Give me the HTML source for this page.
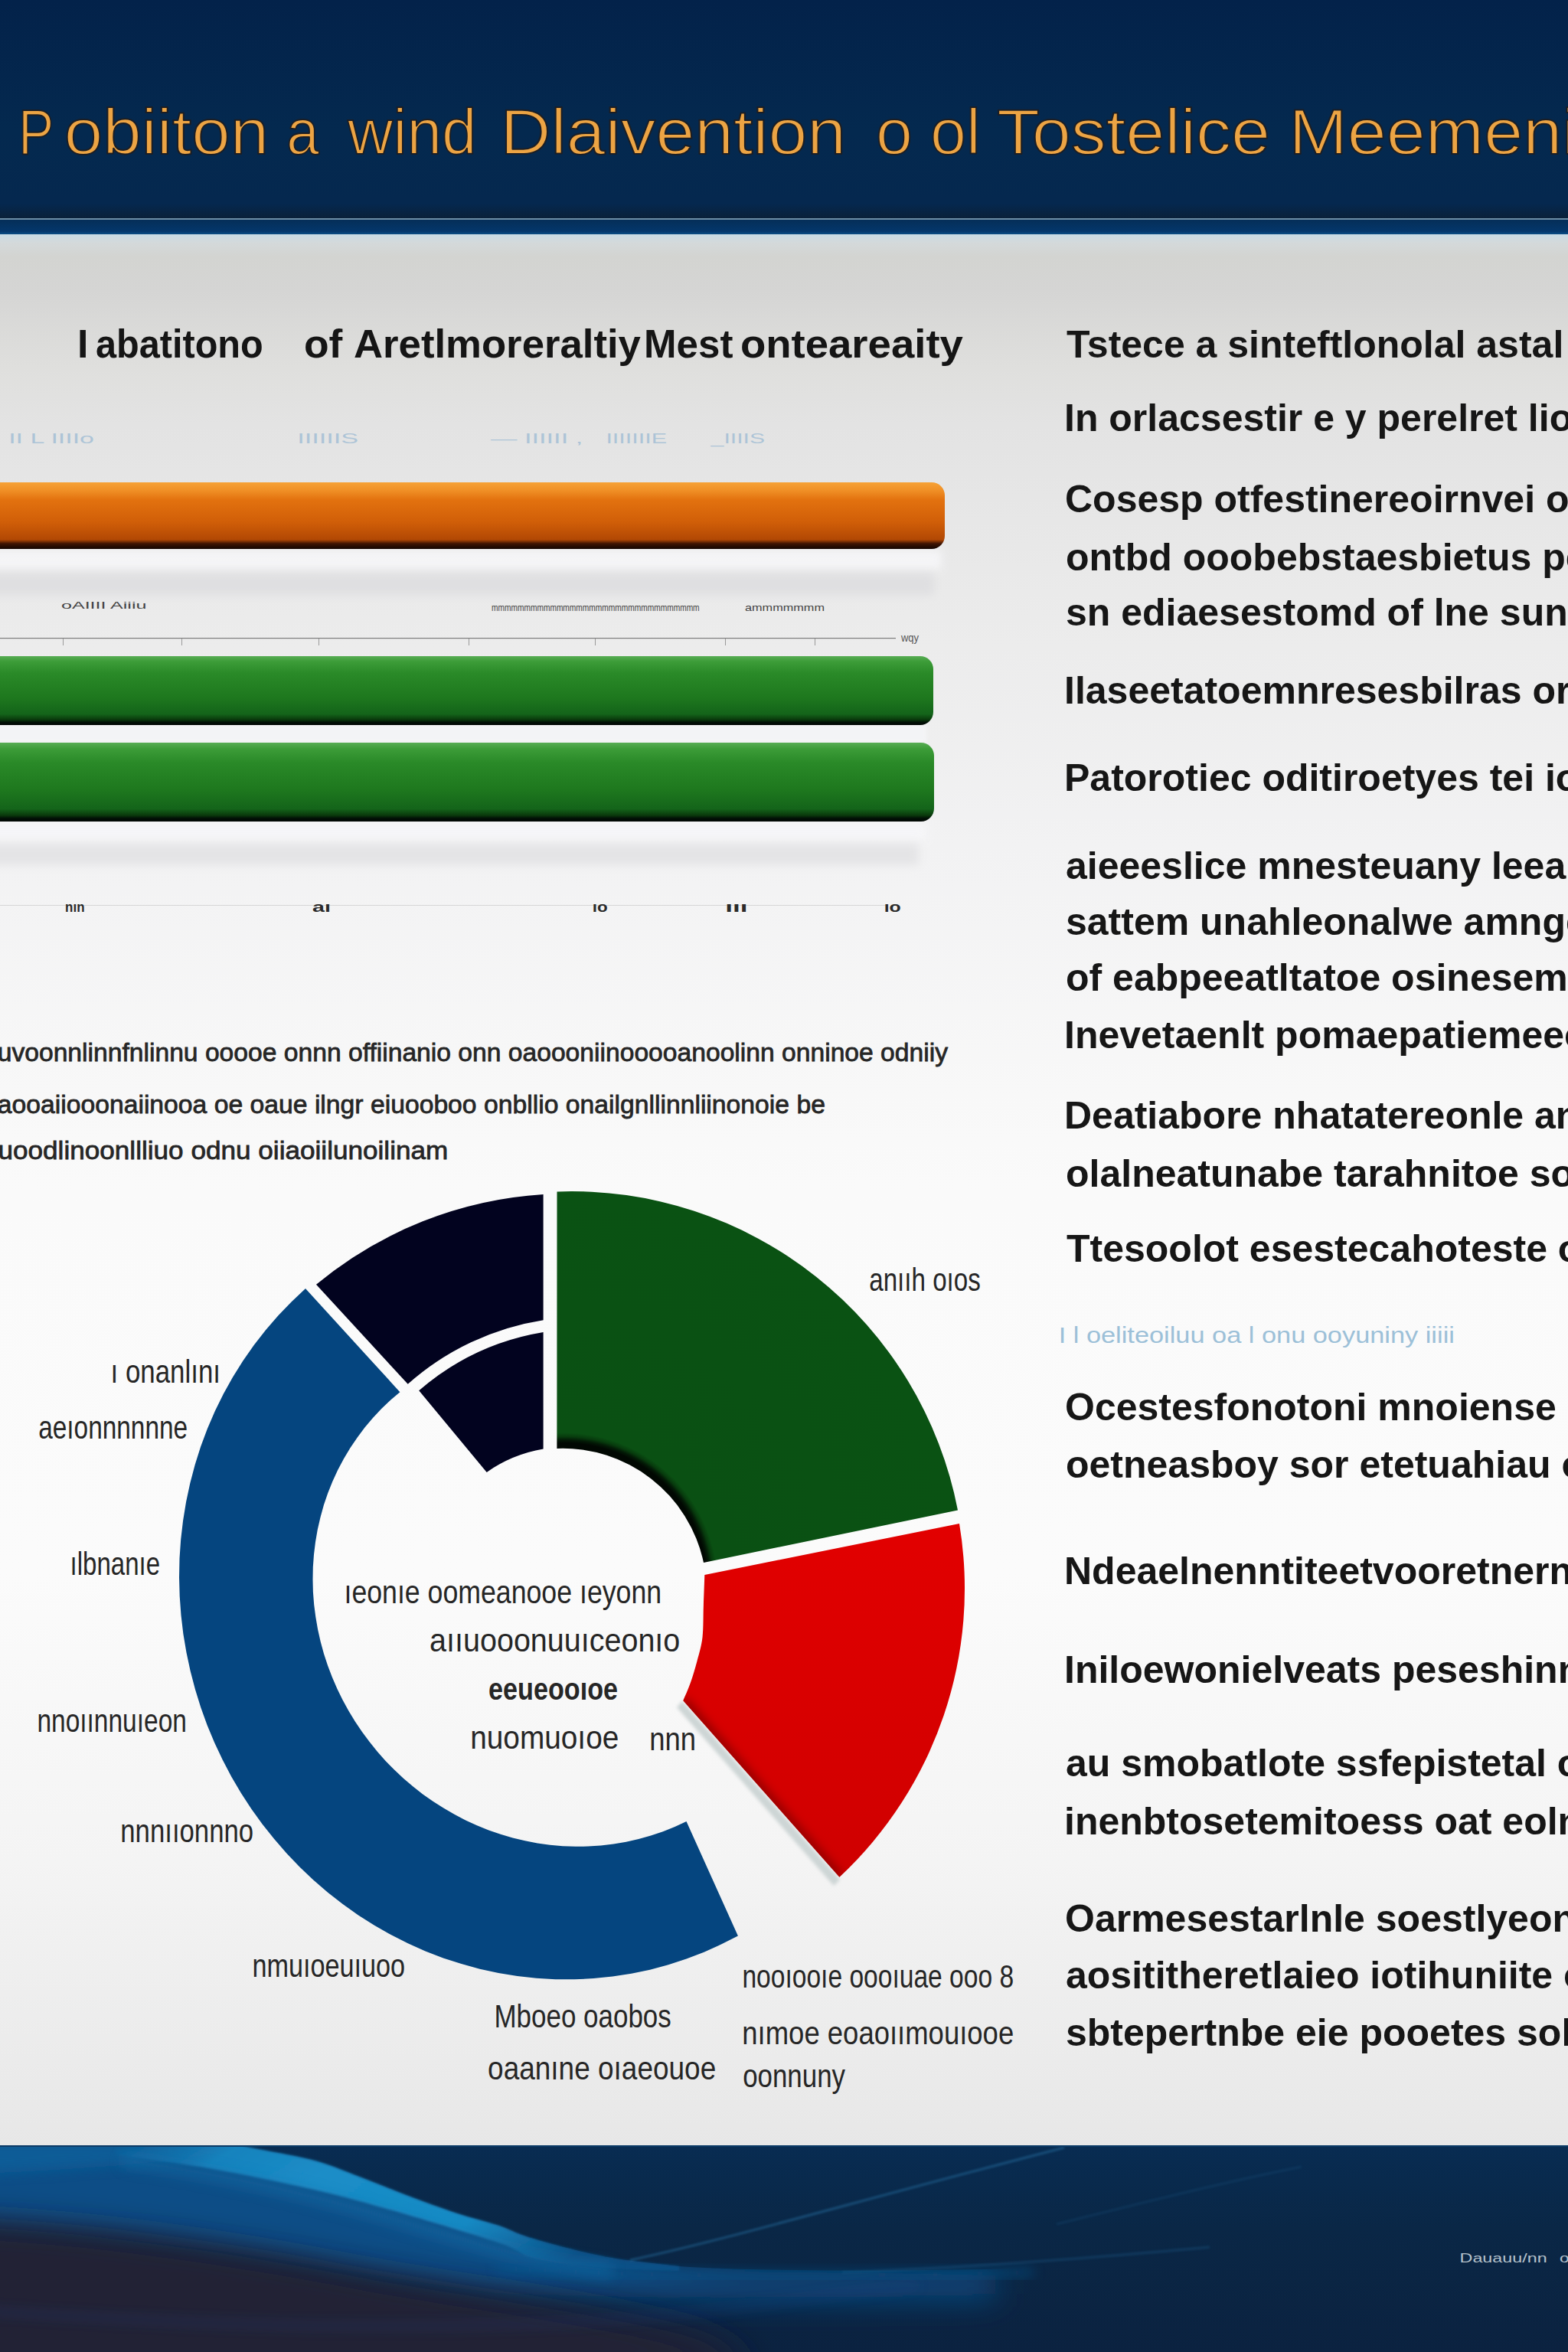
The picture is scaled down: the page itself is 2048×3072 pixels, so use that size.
<!DOCTYPE html>
<html><head><meta charset="utf-8"><title>Slide</title>
<style>html,body{margin:0;padding:0;width:2048px;height:3072px;overflow:hidden;background:#e8e8e8}svg{display:block}</style>
</head><body>
<svg width="2048" height="3072" viewBox="0 0 2048 3072">
<defs>
 <linearGradient id="hdr" x1="0" y1="0" x2="0" y2="1">
  <stop offset="0" stop-color="#03224a"/>
  <stop offset="0.6" stop-color="#04294f"/>
  <stop offset="0.93" stop-color="#05284f"/>
  <stop offset="1" stop-color="#0a2038"/>
 </linearGradient>
 <linearGradient id="band" x1="0" y1="0" x2="0" y2="1">
  <stop offset="0" stop-color="#052e58"/>
  <stop offset="0.8" stop-color="#04376b"/>
  <stop offset="1" stop-color="#0b4f86"/>
 </linearGradient>
 <linearGradient id="content" x1="0" y1="0" x2="0" y2="1">
  <stop offset="0" stop-color="#c9dce6"/>
  <stop offset="0.005" stop-color="#d4d9da"/>
  <stop offset="0.012" stop-color="#d3d4d1"/>
  <stop offset="0.03" stop-color="#d5d5d4"/>
  <stop offset="0.07" stop-color="#dfdfdd"/>
  <stop offset="0.1" stop-color="#e3e3e3"/>
  <stop offset="0.2" stop-color="#ebebeb"/>
  <stop offset="0.32" stop-color="#f2f2f3"/>
  <stop offset="0.45" stop-color="#f8f8f8"/>
  <stop offset="0.5" stop-color="#fafafa"/>
  <stop offset="0.7" stop-color="#fbfbfb"/>
  <stop offset="0.85" stop-color="#f4f4f4"/>
  <stop offset="1" stop-color="#e7e7e7"/>
 </linearGradient>
 <linearGradient id="orange" x1="0" y1="0" x2="0" y2="1">
  <stop offset="0" stop-color="#f6a236"/>
  <stop offset="0.12" stop-color="#f09026"/>
  <stop offset="0.26" stop-color="#e3720f"/>
  <stop offset="0.6" stop-color="#d05e08"/>
  <stop offset="0.86" stop-color="#b24804"/>
  <stop offset="0.92" stop-color="#3f1503"/>
  <stop offset="1" stop-color="#120400"/>
 </linearGradient>
 <linearGradient id="green" x1="0" y1="0" x2="0" y2="1">
  <stop offset="0" stop-color="#58ad54"/>
  <stop offset="0.08" stop-color="#3c9c38"/>
  <stop offset="0.25" stop-color="#2a8a28"/>
  <stop offset="0.6" stop-color="#1e781e"/>
  <stop offset="0.84" stop-color="#14641a"/>
  <stop offset="0.92" stop-color="#0a3a0c"/>
  <stop offset="0.96" stop-color="#021006"/>
  <stop offset="1" stop-color="#010603"/>
 </linearGradient>
 <linearGradient id="shadowband" x1="0" y1="0" x2="0" y2="1">
  <stop offset="0" stop-color="#dcdcdc" stop-opacity="0"/>
  <stop offset="0.25" stop-color="#d8d8da" stop-opacity="0.9"/>
  <stop offset="0.7" stop-color="#dcdcde" stop-opacity="0.9"/>
  <stop offset="1" stop-color="#e2e2e2" stop-opacity="0"/>
 </linearGradient>
 <linearGradient id="footer" x1="0" y1="0" x2="1" y2="1">
  <stop offset="0" stop-color="#1b2a4a"/>
  <stop offset="1" stop-color="#0a2442"/>
 </linearGradient>
 <linearGradient id="red" x1="0" y1="0" x2="0" y2="1">
  <stop offset="0" stop-color="#e20000"/>
  <stop offset="1" stop-color="#cf0000"/>
 </linearGradient>
 <filter id="blur2" x="-20%" y="-20%" width="140%" height="140%"><feGaussianBlur stdDeviation="2"/></filter>
 <filter id="blur5" x="-20%" y="-50%" width="140%" height="200%"><feGaussianBlur stdDeviation="5"/></filter>
 <filter id="blur6" x="-20%" y="-50%" width="140%" height="200%"><feGaussianBlur stdDeviation="6"/></filter>
 <filter id="blur14" x="-20%" y="-50%" width="140%" height="200%"><feGaussianBlur stdDeviation="14"/></filter>
</defs>

<rect x="0" y="0" width="2048" height="3072" fill="#e8e8e8"/>
<rect x="0" y="305" width="2048" height="2500" fill="url(#content)"/>
<rect x="0" y="0" width="2048" height="286" fill="url(#hdr)"/>
<rect x="0" y="285" width="2048" height="2" fill="#6d8ea6"/>
<rect x="0" y="287" width="2048" height="19" fill="url(#band)"/>
<text x="24.0" y="201" font-size="84" font-weight="normal" fill="#eca444" font-family="'Liberation Sans', sans-serif" textLength="46.3" lengthAdjust="spacingAndGlyphs" stroke="#1c1e24" stroke-width="2" stroke-linejoin="round">P</text>
<text x="83.8" y="201" font-size="84" font-weight="normal" fill="#eca444" font-family="'Liberation Sans', sans-serif" textLength="267.3" lengthAdjust="spacingAndGlyphs" stroke="#1c1e24" stroke-width="2" stroke-linejoin="round">obiiton</text>
<text x="374.3" y="201" font-size="84" font-weight="normal" fill="#eca444" font-family="'Liberation Sans', sans-serif" textLength="42.5" lengthAdjust="spacingAndGlyphs" stroke="#1c1e24" stroke-width="2" stroke-linejoin="round">a</text>
<text x="454.0" y="201" font-size="84" font-weight="normal" fill="#eca444" font-family="'Liberation Sans', sans-serif" textLength="168.6" lengthAdjust="spacingAndGlyphs" stroke="#1c1e24" stroke-width="2" stroke-linejoin="round">wind</text>
<text x="653.5" y="201" font-size="84" font-weight="normal" fill="#eca444" font-family="'Liberation Sans', sans-serif" textLength="451.6" lengthAdjust="spacingAndGlyphs" stroke="#1c1e24" stroke-width="2" stroke-linejoin="round">Dlaivention</text>
<text x="1143.9" y="201" font-size="84" font-weight="normal" fill="#eca444" font-family="'Liberation Sans', sans-serif" textLength="47.9" lengthAdjust="spacingAndGlyphs" stroke="#1c1e24" stroke-width="2" stroke-linejoin="round">o</text>
<text x="1215.0" y="201" font-size="84" font-weight="normal" fill="#eca444" font-family="'Liberation Sans', sans-serif" textLength="65.7" lengthAdjust="spacingAndGlyphs" stroke="#1c1e24" stroke-width="2" stroke-linejoin="round">ol</text>
<text x="1301.9" y="201" font-size="84" font-weight="normal" fill="#eca444" font-family="'Liberation Sans', sans-serif" textLength="357.2" lengthAdjust="spacingAndGlyphs" stroke="#1c1e24" stroke-width="2" stroke-linejoin="round">Tostelice</text>
<text x="1683.4" y="201" font-size="84" font-weight="normal" fill="#eca444" font-family="'Liberation Sans', sans-serif" textLength="397.7" lengthAdjust="spacingAndGlyphs" stroke="#1c1e24" stroke-width="2" stroke-linejoin="round">Meemenii</text>
<text x="101.0" y="467" font-size="52" font-weight="bold" fill="#151515" font-family="'Liberation Sans', sans-serif" textLength="14.4" lengthAdjust="spacingAndGlyphs" >I</text>
<text x="125.1" y="467" font-size="52" font-weight="bold" fill="#151515" font-family="'Liberation Sans', sans-serif" textLength="218.6" lengthAdjust="spacingAndGlyphs" >abatitono</text>
<text x="396.9" y="467" font-size="52" font-weight="bold" fill="#151515" font-family="'Liberation Sans', sans-serif" textLength="50.4" lengthAdjust="spacingAndGlyphs" >of</text>
<text x="462.0" y="467" font-size="52" font-weight="bold" fill="#151515" font-family="'Liberation Sans', sans-serif" textLength="374.9" lengthAdjust="spacingAndGlyphs" >Aretlmoreraltiy</text>
<text x="841.1" y="467" font-size="52" font-weight="bold" fill="#151515" font-family="'Liberation Sans', sans-serif" textLength="116.3" lengthAdjust="spacingAndGlyphs" >Mest</text>
<text x="966.9" y="467" font-size="52" font-weight="bold" fill="#151515" font-family="'Liberation Sans', sans-serif" textLength="291.0" lengthAdjust="spacingAndGlyphs" >onteareaity</text>
<text x="11.2" y="579" font-size="19" font-weight="normal" fill="#adc4d7" font-family="'Liberation Sans', sans-serif" textLength="111.8" lengthAdjust="spacingAndGlyphs" >II L IIIIo</text>
<text x="388.2" y="579" font-size="19" font-weight="normal" fill="#adc4d7" font-family="'Liberation Sans', sans-serif" textLength="80.0" lengthAdjust="spacingAndGlyphs" >IIIIIIS</text>
<text x="641.0" y="579" font-size="19" font-weight="normal" fill="#adc4d7" font-family="'Liberation Sans', sans-serif" textLength="120.3" lengthAdjust="spacingAndGlyphs" >— IIIIII ,</text>
<text x="791.4" y="579" font-size="19" font-weight="normal" fill="#adc4d7" font-family="'Liberation Sans', sans-serif" textLength="79.7" lengthAdjust="spacingAndGlyphs" >IIIIIIIE</text>
<text x="928.6" y="579" font-size="19" font-weight="normal" fill="#adc4d7" font-family="'Liberation Sans', sans-serif" textLength="70.5" lengthAdjust="spacingAndGlyphs" >_IIIIS</text>
<rect x="-20" y="718" width="1250" height="26" fill="#f7f7f9" opacity="0.85" filter="url(#blur6)"/>
<rect x="-20" y="1074" width="1230" height="24" fill="#f7f7f9" opacity="0.85" filter="url(#blur6)"/>
<rect x="-20" y="946" width="1230" height="24" fill="#f5f6f8" opacity="0.8" filter="url(#blur2)"/>
<rect x="-20" y="749" width="1240" height="28" fill="#dfdfe1" filter="url(#blur6)"/>
<rect x="-20" y="1102" width="1220" height="28" fill="#e4e4e6" filter="url(#blur6)"/>
<rect x="-30" y="630" width="1264" height="87" rx="17" fill="url(#orange)"/>
<rect x="-30" y="857" width="1249" height="90" rx="17" fill="url(#green)"/>
<rect x="-30" y="970" width="1250" height="103" rx="17" fill="url(#green)"/>
<text x="80.0" y="795" font-size="13" font-weight="normal" fill="#444444" font-family="'Liberation Sans', sans-serif" textLength="111.4" lengthAdjust="spacingAndGlyphs" >oAIIII Aiiiu</text>
<text x="642.0" y="798" font-size="13" font-weight="normal" fill="#444444" font-family="'Liberation Sans', sans-serif" textLength="271.6" lengthAdjust="spacingAndGlyphs" >mmmmmmmmmmmmmmmmmmmmmmmmmmmmmmmm</text>
<text x="973.0" y="798" font-size="13" font-weight="normal" fill="#444444" font-family="'Liberation Sans', sans-serif" textLength="104.0" lengthAdjust="spacingAndGlyphs" >ammmmmmm</text>
<rect x="0" y="833" width="1170" height="1.2" fill="#7c7c7c"/>
<rect x="82" y="834" width="1" height="9" fill="#9a9a9a"/>
<rect x="237" y="834" width="1" height="9" fill="#9a9a9a"/>
<rect x="416" y="834" width="1" height="9" fill="#9a9a9a"/>
<rect x="612" y="834" width="1" height="9" fill="#9a9a9a"/>
<rect x="777" y="834" width="1" height="9" fill="#9a9a9a"/>
<rect x="947" y="834" width="1" height="9" fill="#9a9a9a"/>
<rect x="1064" y="834" width="1" height="9" fill="#9a9a9a"/>
<text x="1176.9" y="838" font-size="14" font-weight="normal" fill="#555" font-family="'Liberation Sans', sans-serif" textLength="23.1" lengthAdjust="spacingAndGlyphs" >wqy</text>
<rect x="0" y="1182" width="1160" height="1" fill="#d6d6d6"/>
<text x="85.1" y="1191" font-size="19" font-weight="bold" fill="#2a2a2a" font-family="'Liberation Sans', sans-serif" textLength="25.4" lengthAdjust="spacingAndGlyphs" >nın</text>
<text x="408.0" y="1191" font-size="19" font-weight="bold" fill="#2a2a2a" font-family="'Liberation Sans', sans-serif" textLength="23.9" lengthAdjust="spacingAndGlyphs" >aı</text>
<text x="773.8" y="1191" font-size="19" font-weight="bold" fill="#2a2a2a" font-family="'Liberation Sans', sans-serif" textLength="19.9" lengthAdjust="spacingAndGlyphs" >ıo</text>
<text x="947.2" y="1191" font-size="19" font-weight="bold" fill="#2a2a2a" font-family="'Liberation Sans', sans-serif" textLength="29.2" lengthAdjust="spacingAndGlyphs" >ııı</text>
<text x="1154.7" y="1191" font-size="19" font-weight="bold" fill="#2a2a2a" font-family="'Liberation Sans', sans-serif" textLength="22.1" lengthAdjust="spacingAndGlyphs" >ıo</text>
<text x="-22.0" y="1386" font-size="34" font-weight="normal" fill="#262626" font-family="'Liberation Sans', sans-serif" textLength="1260.0" lengthAdjust="spacingAndGlyphs" stroke="#262626" stroke-width="0.8">nuvoonnlinnfnlinnu ooooe onnn  offiinanio onn oaoooniinooooanoolinn onninoe odniiy</text>
<text x="-22.0" y="1454" font-size="34" font-weight="normal" fill="#262626" font-family="'Liberation Sans', sans-serif" textLength="1099.9" lengthAdjust="spacingAndGlyphs" stroke="#262626" stroke-width="0.8">uaooaiiooonaiinooa oe oaue ilngr eiuooboo onbllio onailgnllinnliinonoie be</text>
<text x="-22.1" y="1514" font-size="34" font-weight="normal" fill="#262626" font-family="'Liberation Sans', sans-serif" textLength="607.4" lengthAdjust="spacingAndGlyphs" stroke="#262626" stroke-width="0.8">nuoodlinoonllliuo odnu oiiaoiilunoilinam</text>
<path d="M 399.0,1683.1 L 380.8,1700.2 L 363.4,1718.2 L 347.0,1737.2 L 331.6,1757.0 L 317.3,1777.5 L 304.0,1798.7 L 291.9,1820.6 L 280.8,1843.0 L 270.9,1866.0 L 262.2,1889.3 L 254.7,1913.1 L 248.3,1937.2 L 243.1,1961.5 L 239.1,1986.1 L 236.2,2010.7 L 234.5,2035.5 L 234.0,2060.3 L 234.7,2085.0 L 236.5,2109.7 L 239.4,2134.3 L 243.5,2158.6 L 248.7,2182.8 L 255.0,2206.7 L 262.3,2230.2 L 270.7,2253.4 L 280.2,2276.2 L 290.7,2298.5 L 302.2,2320.4 L 314.7,2341.7 L 328.2,2362.4 L 342.6,2382.4 L 358.0,2401.8 L 374.2,2420.5 L 391.4,2438.4 L 409.3,2455.5 L 428.1,2471.7 L 447.7,2487.0 L 468.0,2501.4 L 489.0,2514.7 L 510.6,2527.0 L 532.8,2538.3 L 555.6,2548.4 L 578.9,2557.4 L 602.6,2565.1 L 626.7,2571.7 L 651.1,2577.0 L 675.7,2581.0 L 700.6,2583.8 L 725.5,2585.2 L 750.4,2585.3 L 775.3,2584.1 L 800.1,2581.6 L 824.7,2577.8 L 849.0,2572.7 L 872.9,2566.3 L 896.5,2558.6 L 919.5,2549.7 L 942.0,2539.6 L 963.9,2528.4 L 896.5,2378.9 L 881.4,2386.0 L 865.9,2392.2 L 850.1,2397.6 L 834.1,2402.1 L 817.8,2405.8 L 801.4,2408.6 L 784.8,2410.5 L 768.2,2411.6 L 751.6,2411.8 L 735.0,2411.2 L 718.4,2409.7 L 702.0,2407.4 L 685.7,2404.3 L 669.7,2400.4 L 653.8,2395.8 L 638.3,2390.4 L 623.0,2384.2 L 608.1,2377.4 L 593.5,2369.8 L 579.3,2361.6 L 565.5,2352.8 L 552.2,2343.4 L 539.3,2333.3 L 526.9,2322.7 L 515.0,2311.6 L 503.6,2299.9 L 492.8,2287.7 L 482.6,2275.1 L 472.9,2262.0 L 463.8,2248.5 L 455.3,2234.6 L 447.5,2220.3 L 440.4,2205.7 L 433.9,2190.7 L 428.1,2175.4 L 423.0,2159.9 L 418.7,2144.2 L 415.1,2128.2 L 412.3,2112.1 L 410.2,2095.9 L 408.9,2079.5 L 408.5,2063.1 L 408.8,2046.7 L 410.0,2030.3 L 412.0,2014.0 L 414.8,1997.7 L 418.5,1981.7 L 422.9,1965.8 L 428.2,1950.2 L 434.3,1934.9 L 441.2,1920.0 L 448.9,1905.4 L 457.4,1891.3 L 466.6,1877.7 L 476.4,1864.6 L 487.0,1852.0 L 498.2,1840.1 L 510.0,1828.8 L 522.4,1818.2 Z" fill="#05457f"/>
<path d="M 413,1677.7 A 515 515 0 0 1 709.6,1560 L 709.6,1724.2 A 346 346 0 0 0 532.7,1807.8 Z" fill="#02031f"/>
<path d="M 547.2,1816.3 A 330 330 0 0 1 709.6,1740 L 709.6,1892.6 A 183 183 0 0 0 635.7,1922.9 Z" fill="#02031f"/>
<radialGradient id="ggrad" cx="737" cy="2072" r="520" gradientUnits="userSpaceOnUse">
 <stop offset="0" stop-color="#010802"/>
 <stop offset="0.36" stop-color="#010802"/>
 <stop offset="0.368" stop-color="#031a06"/>
 <stop offset="0.376" stop-color="#073b0d"/>
 <stop offset="0.386" stop-color="#0a5013"/>
 <stop offset="1" stop-color="#0a5213"/>
</radialGradient>
<path d="M 727.5,1556.4 A 514 514 0 0 1 1251,1972.5 L 919,2041 A 188 188 0 0 0 727.4,1892 Z" fill="url(#ggrad)"/>
<path d="M 891,2222 L 1097,2455 L 1089,2463 L 884,2230 Z" fill="#cdd5d5" filter="url(#blur2)"/>
<clipPath id="rclip"><path d="M 920.3,2057 L 1253,1990 A 516 516 0 0 1 1096.4,2451.8 L 892.3,2221.3 C 893.9,2217.3 899.0,2206.2 902.0,2197.5 C 905.0,2188.8 907.9,2179.2 910.5,2169.4 C 913.1,2159.6 916.1,2150.7 917.5,2138.5 C 918.9,2126.3 918.4,2110.0 918.9,2096.4 C 919.4,2082.8 920.1,2063.6 920.3,2057.0 Z"/></clipPath>
<path d="M 920.3,2057 L 1253,1990 A 516 516 0 0 1 1096.4,2451.8 L 892.3,2221.3 C 893.9,2217.3 899.0,2206.2 902.0,2197.5 C 905.0,2188.8 907.9,2179.2 910.5,2169.4 C 913.1,2159.6 916.1,2150.7 917.5,2138.5 C 918.9,2126.3 918.4,2110.0 918.9,2096.4 C 919.4,2082.8 920.1,2063.6 920.3,2057.0 Z" fill="url(#red)"/>
<g clip-path="url(#rclip)"><path d="M 892.3,2221.3 L 1096.4,2451.8" stroke="#7a0000" stroke-width="12" fill="none" filter="url(#blur6)" opacity="0.7"/></g>
<text x="1135.2" y="1686" font-size="42" font-weight="normal" fill="#262626" font-family="'Liberation Sans', sans-serif" textLength="145.6" lengthAdjust="spacingAndGlyphs" >anııh oıos</text>
<text x="144.5" y="1806" font-size="42" font-weight="normal" fill="#262626" font-family="'Liberation Sans', sans-serif" textLength="143.5" lengthAdjust="spacingAndGlyphs" >ı onanlını</text>
<text x="50.2" y="1879" font-size="42" font-weight="normal" fill="#262626" font-family="'Liberation Sans', sans-serif" textLength="194.9" lengthAdjust="spacingAndGlyphs" >aeıonnnnnne</text>
<text x="91.6" y="2057" font-size="42" font-weight="normal" fill="#262626" font-family="'Liberation Sans', sans-serif" textLength="117.4" lengthAdjust="spacingAndGlyphs" >ılbnanıe</text>
<text x="48.4" y="2262" font-size="42" font-weight="normal" fill="#262626" font-family="'Liberation Sans', sans-serif" textLength="195.5" lengthAdjust="spacingAndGlyphs" >nnoıınnuıeon</text>
<text x="157.3" y="2406" font-size="42" font-weight="normal" fill="#262626" font-family="'Liberation Sans', sans-serif" textLength="173.8" lengthAdjust="spacingAndGlyphs" >nnnııonnno</text>
<text x="449.5" y="2094" font-size="42" font-weight="normal" fill="#262626" font-family="'Liberation Sans', sans-serif" textLength="414.6" lengthAdjust="spacingAndGlyphs" >ıeonıe oomeanooe ıeyonn</text>
<text x="561.1" y="2157" font-size="42" font-weight="normal" fill="#262626" font-family="'Liberation Sans', sans-serif" textLength="327.2" lengthAdjust="spacingAndGlyphs" >aııuooonuuıceonıo</text>
<text x="638.1" y="2220" font-size="40" font-weight="bold" fill="#262626" font-family="'Liberation Sans', sans-serif" textLength="168.9" lengthAdjust="spacingAndGlyphs" >eeueooıoe</text>
<text x="614.2" y="2284" font-size="42" font-weight="normal" fill="#262626" font-family="'Liberation Sans', sans-serif" textLength="194.1" lengthAdjust="spacingAndGlyphs" >nuomuoıoe</text>
<text x="848.3" y="2286" font-size="42" font-weight="normal" fill="#262626" font-family="'Liberation Sans', sans-serif" textLength="60.8" lengthAdjust="spacingAndGlyphs" >nnn</text>
<text x="329.4" y="2582" font-size="42" font-weight="normal" fill="#262626" font-family="'Liberation Sans', sans-serif" textLength="199.7" lengthAdjust="spacingAndGlyphs" >nmuıoeuıuoo</text>
<text x="645.5" y="2648" font-size="42" font-weight="normal" fill="#262626" font-family="'Liberation Sans', sans-serif" textLength="231.3" lengthAdjust="spacingAndGlyphs" >Mboeo oaobos</text>
<text x="637.1" y="2716" font-size="42" font-weight="normal" fill="#262626" font-family="'Liberation Sans', sans-serif" textLength="298.1" lengthAdjust="spacingAndGlyphs" >oaanıne oıaeouoe</text>
<text x="969.4" y="2596" font-size="42" font-weight="normal" fill="#262626" font-family="'Liberation Sans', sans-serif" textLength="354.7" lengthAdjust="spacingAndGlyphs" >nooıooıe oooıuae ooo 8</text>
<text x="969.3" y="2670" font-size="42" font-weight="normal" fill="#262626" font-family="'Liberation Sans', sans-serif" textLength="354.9" lengthAdjust="spacingAndGlyphs" >nımoe eoaoıımouıooe</text>
<text x="970.2" y="2726" font-size="42" font-weight="normal" fill="#262626" font-family="'Liberation Sans', sans-serif" textLength="133.8" lengthAdjust="spacingAndGlyphs" >oonnuny</text>
<text x="1393.0" y="467" font-size="50" font-weight="bold" fill="#161616" font-family="'Liberation Sans', sans-serif" >Tstece a sinteftlonolal astal osteinn</text>
<text x="1390.0" y="563" font-size="50" font-weight="bold" fill="#161616" font-family="'Liberation Sans', sans-serif" >In orlacsestir e y perelret lioeanet</text>
<text x="1391.0" y="669" font-size="50" font-weight="bold" fill="#161616" font-family="'Liberation Sans', sans-serif" >Cosesp otfestinereoirnvei onlon</text>
<text x="1392.0" y="745" font-size="50" font-weight="bold" fill="#161616" font-family="'Liberation Sans', sans-serif" >ontbd ooobebstaesbietus pc onst</text>
<text x="1392.0" y="817" font-size="50" font-weight="bold" fill="#161616" font-family="'Liberation Sans', sans-serif" >sn ediaesestomd of lne sunn ante</text>
<text x="1390.0" y="919" font-size="50" font-weight="bold" fill="#161616" font-family="'Liberation Sans', sans-serif" >Ilaseetatoemnresesbilras or ei ooti</text>
<text x="1390.0" y="1033" font-size="50" font-weight="bold" fill="#161616" font-family="'Liberation Sans', sans-serif" >Patorotiec oditiroetyes tei ioi</text>
<text x="1392.0" y="1148" font-size="50" font-weight="bold" fill="#161616" font-family="'Liberation Sans', sans-serif" >aieeeslice mnesteuany leeaniaes</text>
<text x="1392.0" y="1221" font-size="50" font-weight="bold" fill="#161616" font-family="'Liberation Sans', sans-serif" >sattem unahleonalwe amnge onle</text>
<text x="1392.0" y="1294" font-size="50" font-weight="bold" fill="#161616" font-family="'Liberation Sans', sans-serif" >of eabpeeatltatoe osinesemtu eod</text>
<text x="1390.0" y="1369" font-size="50" font-weight="bold" fill="#161616" font-family="'Liberation Sans', sans-serif" >Inevetaenlt pomaepatiemeeon s</text>
<text x="1390.0" y="1474" font-size="50" font-weight="bold" fill="#161616" font-family="'Liberation Sans', sans-serif" >Deatiabore nhatatereonle aniore</text>
<text x="1392.0" y="1550" font-size="50" font-weight="bold" fill="#161616" font-family="'Liberation Sans', sans-serif" >olalneatunabe tarahnitoe soilate</text>
<text x="1393.0" y="1648" font-size="50" font-weight="bold" fill="#161616" font-family="'Liberation Sans', sans-serif" >Ttesoolot esestecahoteste ooten</text>
<text x="1391.0" y="1855" font-size="50" font-weight="bold" fill="#161616" font-family="'Liberation Sans', sans-serif" >Ocestesfonotoni mnoiense oolse</text>
<text x="1392.0" y="1930" font-size="50" font-weight="bold" fill="#161616" font-family="'Liberation Sans', sans-serif" >oetneasboy sor etetuahiau oolat</text>
<text x="1390.0" y="2069" font-size="50" font-weight="bold" fill="#161616" font-family="'Liberation Sans', sans-serif" >Ndeaelnenntiteetvooretnern ooe</text>
<text x="1390.0" y="2198" font-size="50" font-weight="bold" fill="#161616" font-family="'Liberation Sans', sans-serif" >Iniloewonielveats peseshinn aos</text>
<text x="1392.0" y="2320" font-size="50" font-weight="bold" fill="#161616" font-family="'Liberation Sans', sans-serif" >au smobatlote ssfepistetal oeeta</text>
<text x="1390.0" y="2396" font-size="50" font-weight="bold" fill="#161616" font-family="'Liberation Sans', sans-serif" >inenbtosetemitoess oat eolne</text>
<text x="1391.0" y="2523" font-size="50" font-weight="bold" fill="#161616" font-family="'Liberation Sans', sans-serif" >Oarmesestarlnle soestlyeonetoo</text>
<text x="1392.0" y="2597" font-size="50" font-weight="bold" fill="#161616" font-family="'Liberation Sans', sans-serif" >aosititheretlaieo iotihuniite ona</text>
<text x="1392.0" y="2672" font-size="50" font-weight="bold" fill="#161616" font-family="'Liberation Sans', sans-serif" >sbtepertnbe eie pooetes soleoe</text>
<text x="1382.7" y="1754" font-size="30" font-weight="normal" fill="#9cc0d8" font-family="'Liberation Sans', sans-serif" textLength="517.2" lengthAdjust="spacingAndGlyphs" >I l oeliteoiluu oa l onu ooyuniny iiiii</text>
<defs>
 <linearGradient id="fbase" x1="0" y1="0" x2="0" y2="1">
  <stop offset="0" stop-color="#082c52"/>
  <stop offset="0.4" stop-color="#0a2746"/>
  <stop offset="1" stop-color="#0b2240"/>
 </linearGradient>
 <radialGradient id="fpurple" cx="250" cy="3010" r="700" gradientUnits="userSpaceOnUse" gradientTransform="translate(250 3010) scale(1.3 0.45) translate(-250 -3010)">
  <stop offset="0" stop-color="#221d30"/>
  <stop offset="0.6" stop-color="#1f2036"/>
  <stop offset="1" stop-color="#1a2440" stop-opacity="0"/>
 </radialGradient>
 <linearGradient id="fband" x1="0" y1="0" x2="1" y2="0">
  <stop offset="0" stop-color="#1a87c0"/>
  <stop offset="0.6" stop-color="#168bc6"/>
  <stop offset="1" stop-color="#0f5f94"/>
 </linearGradient>
 <filter id="fb8" x="-10%" y="-50%" width="120%" height="200%"><feGaussianBlur stdDeviation="8"/></filter>
 <filter id="fb20" x="-10%" y="-50%" width="120%" height="200%"><feGaussianBlur stdDeviation="20"/></filter>
 <filter id="fb2" x="-10%" y="-50%" width="120%" height="200%"><feGaussianBlur stdDeviation="1.5"/></filter>
 <clipPath id="fclip"><rect x="0" y="2803" width="2048" height="269"/></clipPath>
</defs>
<rect x="0" y="2803" width="2048" height="269" fill="url(#fbase)"/>
<g clip-path="url(#fclip)">
<clipPath id="underband"><path d="M -60,2790 L 309,2790 L 309,2803 C 325.0,2805.9 378.3,2813.8 405.0,2820.5 C 431.7,2827.2 447.7,2835.1 469.0,2843.0 C 490.3,2850.9 511.5,2860.1 532.7,2868.0 C 553.9,2875.9 576.5,2884.3 596.0,2890.7 C 615.5,2897.1 633.4,2901.1 650.0,2906.6 C 666.6,2912.1 672.2,2917.0 695.7,2923.8 C 719.2,2930.7 759.1,2941.7 791.0,2947.7 C 822.9,2953.7 871.0,2957.9 887.0,2960.0 C 1000,2968 1200,2966 1400,2962 L 1400,3100 L -60,3100 Z"/></clipPath>
<g clip-path="url(#underband)"><path d="M -60,2790 L 309,2790 C 450,2820 600,2880 700,2920 C 800,2950 900,2962 1000,2966 L 1300,2968 L 1300,3000 C 1000,3005 800,3000 650,2995 C 450,2970 250,2920 -60,2910 Z" fill="#0f4e86" filter="url(#fb20)"/></g>
<path d="M -100,2900 C 100,2905 300,2935 469,2968 C 600,2992 750,3010 880,3040 C 930,3052 960,3065 980,3100 L -100,3150 Z" fill="#242236" filter="url(#fb20)"/>
<path d="M -50,2795 L 330,2795 C 300,2815 200,2830 -50,2840 Z" fill="#0f5e9a" opacity="0.9" filter="url(#fb8)"/>
<linearGradient id="bandg" x1="0" y1="0" x2="1" y2="0.35">
 <stop offset="0" stop-color="#1478b4" stop-opacity="0"/><stop offset="0.2" stop-color="#1889c4" stop-opacity="0.9"/><stop offset="0.4" stop-color="#1a8dc7"/><stop offset="0.75" stop-color="#178ac4"/><stop offset="1" stop-color="#0d4f85"/></linearGradient>
<path d="M 150,2800 L 309,2800 C 325.0,2805.9 378.3,2813.8 405.0,2820.5 C 431.7,2827.2 447.7,2835.1 469.0,2843.0 C 490.3,2850.9 511.5,2860.1 532.7,2868.0 C 553.9,2875.9 576.5,2884.3 596.0,2890.7 C 615.5,2897.1 633.4,2901.1 650.0,2906.6 C 666.6,2912.1 672.2,2917.0 695.7,2923.8 C 719.2,2930.7 759.1,2941.7 791.0,2947.7 C 822.9,2953.7 871.0,2957.9 887.0,2960.0 L 887,2966 C 871.0,2965.3 822.2,2964.7 791.0,2962.0 C 759.8,2959.3 723.5,2955.5 700.0,2950.0 C 676.5,2944.5 683.2,2940.0 650.0,2929.0 C 616.8,2918.0 541.8,2895.7 501.0,2884.0 C 460.2,2872.3 442.2,2867.5 405.0,2859.0 C 367.8,2850.5 320.0,2840.5 277.5,2833.0 C 235.0,2825.5 171.2,2817.2 150.0,2814.0 Z" fill="url(#bandg)" filter="url(#fb2)"/>
<path d="M 160,2822 C 300,2840 420,2870 520,2900 C 620,2930 700,2955 800,2966" stroke="#1470aa" stroke-width="18" fill="none" opacity="0.5" filter="url(#fb8)"/>
<path d="M 650,2962 C 800,2972 1000,2976 1350,2968" stroke="#0f5c94" stroke-width="10" fill="none" opacity="0.55" filter="url(#fb8)"/>
<path d="M 823,2952 C 950,2925 1100,2880 1390,2805" stroke="#2a79ad" stroke-width="2.5" fill="none" opacity="0.55" filter="url(#fb2)"/>
<path d="M 1100,2968 C 1250,2962 1400,2952 1580,2935" stroke="#1f5a88" stroke-width="3" fill="none" opacity="0.4" filter="url(#fb2)"/>
<path d="M 1380,2905 C 1500,2875 1600,2850 1700,2830" stroke="#1f5a88" stroke-width="2.5" fill="none" opacity="0.3" filter="url(#fb2)"/>
<path d="M -20,3018 C 150,3030 400,3045 700,3035 C 900,3028 1050,3000 1200,2985" stroke="#24438a" stroke-width="5" fill="none" opacity="0.45" filter="url(#fb8)"/>
</g>
<rect x="0" y="2802" width="2048" height="2" fill="#0b3a66"/>
<text x="1906.6" y="2955" font-size="17" font-weight="normal" fill="#b6c2cc" font-family="'Liberation Sans', sans-serif" textLength="114.0" lengthAdjust="spacingAndGlyphs" >Dauauu/nn</text>
<text x="2037.0" y="2955" font-size="17" font-weight="normal" fill="#b6c2cc" font-family="'Liberation Sans', sans-serif" textLength="12.6" lengthAdjust="spacingAndGlyphs" >o</text></svg>
</body></html>
